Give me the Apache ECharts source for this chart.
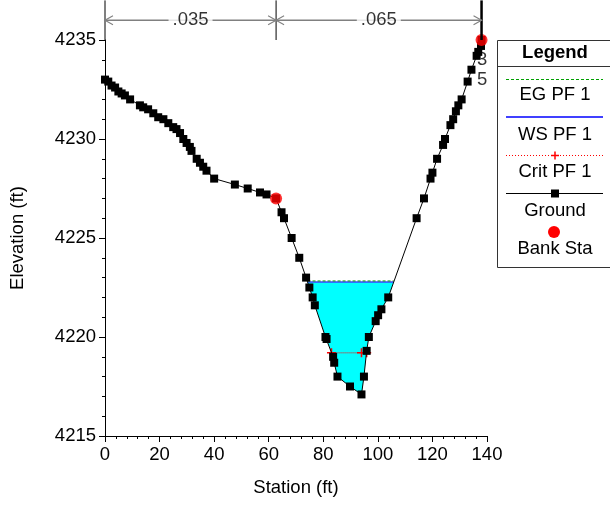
<!DOCTYPE html>
<html>
<head>
<meta charset="utf-8">
<script src="https://cdn.jsdelivr.net/npm/echarts@6/dist/echarts.min.js"></script>
<style>
  html, body { margin: 0; padding: 0; background: #fff; }
  #chart { width: 610px; height: 508px; }
</style>
</head>
<body>
<div id="chart"></div>
<script>
// ground profile
const groundSta = [0, 1.2, 2.4, 3.7, 4.9, 6.1, 7.3, 9.2, 12.8, 14.0, 15.8, 17.7, 19.5, 21.4, 23.2, 25.0,
  26.2, 27.5, 28.7, 29.9, 31.1, 31.7, 33.6, 34.8, 36.0, 37.2, 40.0, 47.6, 52.3, 56.8, 59.2, 62.7,
  64.7, 65.6, 68.4, 71.2, 73.7, 74.9, 76.1, 76.9, 80.8, 81.2, 83.6, 84.0, 85.2, 89.8, 94.0, 94.9,
  95.9, 96.7, 99.2, 100.1, 101.3, 103.8, 114.2, 116.9, 119.3, 120.0, 121.7, 123.9, 124.6, 126.6,
  127.6, 128.6, 129.5, 130.7, 132.9, 134.3, 136.2, 136.8, 137.8, 138.0]
const groundElev = [4233.0, 4232.9, 4232.7, 4232.6, 4232.4, 4232.3, 4232.2, 4232.0, 4231.7, 4231.6,
  4231.5, 4231.3, 4231.1, 4231.0, 4230.8, 4230.6, 4230.5, 4230.3, 4230.0, 4229.8, 4229.6, 4229.4,
  4229.0, 4228.8, 4228.6, 4228.4, 4228.0, 4227.7, 4227.5, 4227.3, 4227.2, 4227.0, 4226.3, 4226.0,
  4225.0, 4224.0, 4223.0, 4222.5, 4222.0, 4221.6, 4220.0, 4219.9, 4219.0, 4218.7, 4218.0, 4217.5,
  4217.1, 4218.0, 4219.3, 4220.0, 4220.8, 4221.1, 4221.4, 4222.0, 4226.0, 4227.0, 4228.0, 4228.3,
  4229.0, 4229.7, 4230.0, 4230.7, 4231.0, 4231.4, 4231.7, 4232.0, 4232.9, 4233.5, 4234.2, 4234.4,
  4234.7, 4235.0]

const bankSta = [62.7, 138.0]
const bankElev = [4227.0, 4235.0]

const wsElev = 4222.78
const egElev = 4222.83
const critElev = 4219.2
const critSta = [83.0, 94.0, 95.9]

// manning's n regions
const nSta = [0, 62.7, 138.0]
const nValues = ['.035', '.065']

const xTicks = { min: 0, max: 140, interval: 20 }
const yTicks = { min: 4215, max: 4235, interval: 5 }

const FONT = 'Liberation Sans, Arial, sans-serif'
const FS = 18.5

// water area: ground below the water surface, closed along the surface
function waterPolygon() {
  const pts = []
  for (let i = 0; i < groundSta.length; i++) {
    const x0 = groundSta[i], y0 = groundElev[i]
    if (y0 < wsElev) pts.push([x0, y0])
    if (i === groundSta.length - 1) break
    const x1 = groundSta[i + 1], y1 = groundElev[i + 1]
    if ((y0 - wsElev) * (y1 - wsElev) < 0) {
      const t = (wsElev - y0) / (y1 - y0)
      pts.push([x0 + t * (x1 - x0), wsElev])
    }
  }
  return pts
}
const water = waterPolygon()
const wsLeft = water[0][0]
const wsRight = water[water.length - 1][0]

const arrowL = 'path://M10,0 L0,5 L10,10'
const arrowR = 'path://M0,0 L10,5 L0,10'
const plus = 'path://M0,5 L10,5 M5,0 L5,10'

const series = []

series.push({
  type: 'custom',
  z: 1,
  silent: true,
  data: [[wsLeft, wsElev]],
  renderItem: (params, api) => ({
    type: 'polygon',
    shape: { points: water.map(p => api.coord(p)) },
    style: { fill: '#00ffff', stroke: 'none' },
  }),
})

// clipped station labels near the right bank
series.push({
  type: 'scatter',
  z: 2,
  silent: true,
  clip: false,
  symbolSize: 1,
  itemStyle: { color: 'rgba(0,0,0,0)' },
  data: [{ value: [138.2, 4234.0], name: '3' }, { value: [138.2, 4233.0], name: '5' }],
  label: { show: true, position: 'inside', formatter: '{b}', color: '#000', fontSize: FS, fontFamily: FONT },
})

series.push({
  type: 'line',
  z: 3,
  silent: true,
  symbol: 'none',
  data: [[wsLeft, wsElev], [wsRight, wsElev]],
  lineStyle: { color: '#4040ff', width: 1.5 },
})
series.push({
  type: 'line',
  z: 4,
  silent: true,
  symbol: 'none',
  data: [[wsLeft, egElev], [wsRight, egElev]],
  lineStyle: { color: '#00a000', width: 1, type: [3, 2] },
})
series.push({
  type: 'line',
  z: 5,
  silent: true,
  symbol: plus,
  symbolSize: 9,
  data: critSta.map(s => [s, critElev]),
  itemStyle: { color: 'rgba(0,0,0,0)', borderColor: '#ff0000', borderWidth: 1.5 },
  lineStyle: { color: '#ff0000', width: 1, type: 'dotted' },
})

series.push({
  type: 'line',
  z: 6,
  silent: true,
  symbol: 'rect',
  symbolSize: 8,
  showAllSymbol: true,
  data: groundSta.map((s, i) => [s, groundElev[i]]),
  itemStyle: { color: '#000' },
  lineStyle: { color: '#000', width: 1 },
})

series.push({
  type: 'scatter',
  z: 7,
  silent: true,
  symbol: 'circle',
  symbolSize: 12,
  data: bankSta.map((s, i) => [s, bankElev[i]]),
  itemStyle: { color: '#ff0000' },
})

// n-value region markers above the plot
nSta.forEach((s, i) => {
  series.push({
    type: 'line',
    z: 8,
    silent: true,
    clip: false,
    symbol: 'none',
    data: [[s, 4235], [s, 4237]],
    lineStyle: { color: '#000', width: i === nSta.length - 1 ? 2.5 : 1 },
  })
})
for (let i = 0; i < nValues.length; i++) {
  series.push({
    type: 'line',
    z: 8,
    silent: true,
    clip: false,
    data: [
      { value: [nSta[i], 4236], symbol: arrowL, symbolOffset: [4, 0] },
      { value: [nSta[i + 1], 4236], symbol: arrowR, symbolOffset: [-4, 0] },
    ],
    symbolSize: [8, 9],
    itemStyle: { color: 'rgba(0,0,0,0)', borderColor: '#808080', borderWidth: 1.2 },
    lineStyle: { color: '#808080', width: 1.5 },
  })
}
series.push({
  type: 'scatter',
  z: 9,
  silent: true,
  clip: false,
  symbolSize: 1,
  itemStyle: { color: 'rgba(0,0,0,0)' },
  data: nValues.map((v, i) => ({ value: [(nSta[i] + nSta[i + 1]) / 2, 4236], name: v })),
  label: {
    show: true, position: 'inside', formatter: '{b}', color: '#000', fontSize: FS, fontFamily: FONT,
    backgroundColor: '#fff', padding: [0, 4],
  },
})

// legend box, drawn by hand (symbols sit above their labels)
const LX = 555
const legendText = (text, y, bold) => ({
  type: 'text', x: LX, y,
  style: { text, fill: '#000', font: `${bold ? 'bold ' : ''}${FS}px ${FONT}`, align: 'center', verticalAlign: 'middle' },
})
const legendLine = (y, stroke, lineDash, lineWidth) => ({
  type: 'line', shape: { x1: 506, y1: y, x2: 603, y2: y },
  style: { stroke, lineWidth: lineWidth || 1, lineDash },
})
const graphic = [
  { type: 'rect', shape: { x: 497.5, y: 40.5, width: 130, height: 227 }, style: { fill: '#fff', stroke: '#333', lineWidth: 1 } },
  { type: 'line', shape: { x1: 497.5, y1: 66.5, x2: 627, y2: 66.5 }, style: { stroke: '#333', lineWidth: 1 } },
  legendText('Legend', 53, true),
  legendLine(79.5, '#00a000', [3, 2]),
  legendText('EG PF 1', 95),
  legendLine(117, '#4040ff', null, 2),
  legendText('WS PF 1', 135),
  legendLine(155.5, '#ff0000', [1, 2]),
  { type: 'line', shape: { x1: LX - 4, y1: 155.5, x2: LX + 4, y2: 155.5 }, style: { stroke: '#ff0000', lineWidth: 1.5 } },
  { type: 'line', shape: { x1: LX, y1: 151.5, x2: LX, y2: 159.5 }, style: { stroke: '#ff0000', lineWidth: 1.5 } },
  legendText('Crit PF 1', 172),
  legendLine(193.5, '#000'),
  { type: 'rect', shape: { x: LX - 4, y: 189.5, width: 8, height: 8 }, style: { fill: '#000' } },
  legendText('Ground', 211),
  { type: 'circle', shape: { cx: LX - 1, cy: 232, r: 6 }, style: { fill: '#ff0000' } },
  legendText('Bank Sta', 249),
]

const axisCommon = {
  type: 'value',
  nameLocation: 'middle',
  nameTextStyle: { color: '#000', fontSize: FS, fontFamily: FONT },
  axisLine: { show: true, lineStyle: { color: '#000', width: 1 } },
  axisTick: { show: true, inside: false, length: 6, lineStyle: { color: '#000' } },
  minorTick: { show: true, splitNumber: 5, length: 3, lineStyle: { color: '#000' } },
  splitLine: { show: false },
  axisLabel: { color: '#000', fontSize: FS, fontFamily: FONT, margin: 9, formatter: v => String(v) },
}

const chart = echarts.init(document.getElementById('chart'))
chart.setOption({
  animation: false,
  backgroundColor: '#fff',
  grid: { left: 105, right: 123, top: 40, bottom: 72 },
  xAxis: { ...axisCommon, ...xTicks, name: 'Station (ft)', nameGap: 42 },
  yAxis: { ...axisCommon, ...yTicks, name: 'Elevation (ft)', nameGap: 78 },
  series,
  graphic,
})
</script>
</body>
</html>
